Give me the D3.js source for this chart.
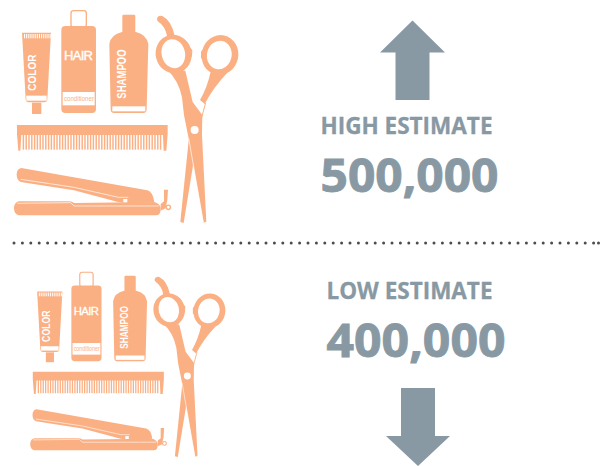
<!DOCTYPE html>
<html lang="en">
<head>
<meta charset="UTF-8">
<title>Estimates</title>
<script src="https://d3js.org/d3.v7.min.js"></script>
<style>
html, body { margin: 0; padding: 0; background: #fff; }
svg { display: block; }
</style>
</head>
<body>
<script>
const estimateLabels = ['HIGH ESTIMATE', 'LOW ESTIMATE'];
const estimates = [500000, 400000];
const directions = ['up', 'down'];
const tubeLabel = 'COLOR';
const bottleLabel = 'HAIR';
const bottleSubLabel = 'conditioner';
const shampooLabel = 'SHAMPOO';

const width = 603, height = 466;
const peach = '#fbb084', grey = '#8899a3';
const fmt = d3.format(',');

const svg = d3.select('body').append('svg').attr('width', width).attr('height', height);

// the kit of tools, drawn in a 3x working space, placed twice
function drawKit(g) {
    const tube = g.append('g');
    tube.append('path').attr('fill', peach)
        .attr('d', 'M66,98 L153,98 L142,298 Q141,307 133,307 L86,307 Q78,307 77,298 Z');
    tube.append('rect').attr('x', 96).attr('y', 308).attr('width', 28).attr('height', 34).attr('fill', peach);
    tube.append('rect').attr('x', 79).attr('y', 287).attr('width', 61).attr('height', 15).attr('fill', '#fff');
    tube.selectAll('rect.crimp').data(d3.range(72, 150, 6.4)).join('rect').attr('class', 'crimp')
        .attr('x', d => d).attr('y', 102).attr('width', 3.2).attr('height', 13).attr('fill', '#fff');
    tube.append('text').text(tubeLabel)
        .attr('transform', 'translate(109,272) rotate(-90)')
        .attr('textLength', 108).attr('lengthAdjust', 'spacingAndGlyphs')
        .attr('font-size', 35).attr('font-weight', 700).attr('fill', '#fff');

    const bottle = g.append('g');
    bottle.append('rect').attr('x', 213).attr('y', 32).attr('width', 46).attr('height', 50).attr('rx', 8)
        .attr('fill', '#fff').attr('stroke', peach).attr('stroke-width', 4);
    bottle.append('rect').attr('x', 184).attr('y', 78).attr('width', 104).attr('height', 261).attr('rx', 12).attr('fill', peach);
    bottle.append('rect').attr('x', 188).attr('y', 276).attr('width', 96).attr('height', 40).attr('fill', '#fff');
    bottle.append('text').text(bottleLabel)
        .attr('x', 192).attr('y', 180)
        .attr('textLength', 87).attr('lengthAdjust', 'spacing')
        .attr('font-size', 39).attr('fill', '#fff')
        .attr('stroke', '#fff').attr('stroke-width', 1);
    bottle.append('text').text(bottleSubLabel)
        .attr('x', 192).attr('y', 304)
        .attr('textLength', 90).attr('lengthAdjust', 'spacingAndGlyphs')
        .attr('font-size', 22).attr('fill', peach);

    const shampoo = g.append('g');
    shampoo.append('rect').attr('x', 367).attr('y', 44).attr('width', 39).attr('height', 56).attr('rx', 4).attr('fill', peach);
    shampoo.append('path').attr('fill', peach)
        .attr('d', 'M328,132 Q332,104 366,96 L408,96 Q440,104 445,132 L440,328 Q440,339 430,339 L342,339 Q332,339 332,328 Z');
    shampoo.append('rect').attr('x', 337).attr('y', 319).attr('width', 99).attr('height', 15).attr('fill', '#fff');
    shampoo.append('text').text(shampooLabel)
        .attr('transform', 'translate(379,296) rotate(-90)')
        .attr('textLength', 148).attr('lengthAdjust', 'spacingAndGlyphs')
        .attr('font-size', 38).attr('font-weight', 700).attr('fill', '#fff');

    const comb = g.append('g');
    comb.append('path').attr('fill', peach)
        .attr('d', 'M51,375 L503,375 L503,402 L499,452 L491,452 L489,405 L64,405 L61,452 L55,452 L51,402 Z');
    comb.selectAll('rect.tooth').data(d3.range(68, 488, 8.4)).join('rect').attr('class', 'tooth')
        .attr('x', d => d).attr('y', 403).attr('width', 4.4).attr('height', 46).attr('fill', peach);

    const iron = g.append('g');
    iron.append('path').attr('fill', peach)
        .attr('d', 'M64,504 L442,571 Q459,576 463,606 L387,611 L354,606 L222,571 L62,546 Q50,540 50,524 Q50,506 64,504 Z');
    iron.append('path').attr('fill', 'none').attr('stroke', '#fff').attr('stroke-width', 2)
        .attr('d', 'M62,538 L222,562 L355,592 L385,592');
    iron.append('rect').attr('x', 370).attr('y', 597).attr('width', 12).attr('height', 12).attr('fill', '#fff');
    iron.append('path').attr('fill', peach)
        .attr('d', 'M56,604 L208,604 Q218,604 222,609 L462,606 Q482,610 482,628 Q482,646 468,646 L56,646 Q42,642 42,625 Q42,608 56,604 Z');
    iron.append('path').attr('fill', 'none').attr('stroke', '#fff').attr('stroke-width', 2)
        .attr('d', 'M52,610 L212,608 L222,618 L476,618');
    iron.append('path').attr('fill', peach)
        .attr('d', 'M492,569 L504,569 L502,600 L497,625 L482,632 L482,612 L492,604 Z');
    iron.append('circle').attr('cx', 505).attr('cy', 622).attr('r', 6.5)
        .attr('fill', '#fff').attr('stroke', peach).attr('stroke-width', 4);

    const scissors = g.append('g');
    // thin lower blade and the right handle
    scissors.append('path').attr('fill', peach)
        .attr('d', 'M567,412 L541,666 L551,669 L590,430 Z');
    scissors.append('path').attr('fill', peach)
        .attr('d', 'M632,215 Q622,262 600,300 L614,312 Q640,262 682,218 Z');
    scissors.append('path').attr('fill', 'none').attr('stroke', peach).attr('stroke-width', 3)
        .attr('d', 'M617,308 L600,372');
    scissors.append('ellipse').attr('cx', 660).attr('cy', 165).attr('rx', 55).attr('ry', 60)
        .attr('transform', 'rotate(12 660 165)').attr('fill', peach);
    scissors.append('ellipse').attr('cx', 658).attr('cy', 165).attr('rx', 37).attr('ry', 43)
        .attr('transform', 'rotate(12 658 165)').attr('fill', '#fff');
    scissors.append('path').attr('fill', peach).attr('d', 'M603,155 L616,138 L618,180 L603,175 Z');
    // heavy blade with the left handle
    scissors.append('path').attr('fill', peach)
        .attr('d', 'M500,208 Q535,240 546,292 L552,345 L565,410 L611,668 L619,665 L606,405 L607,345 L578,306 L556,212 Z');
    scissors.append('path').attr('fill', 'none').attr('stroke', '#fff').attr('stroke-width', 2)
        .attr('d', 'M566,414 L610,668');
    scissors.append('ellipse').attr('cx', 521).attr('cy', 162).attr('rx', 54).attr('ry', 58)
        .attr('transform', 'rotate(-14 521 162)').attr('fill', peach);
    scissors.append('ellipse').attr('cx', 520).attr('cy', 161).attr('rx', 35).attr('ry', 44)
        .attr('transform', 'rotate(-14 520 161)').attr('fill', '#fff');
    scissors.append('path').attr('fill', peach).attr('d', 'M560,132 L577,150 L576,170 L558,172 Z');
    scissors.append('path').attr('fill', peach)
        .attr('d', 'M471,56 Q474,44 487,48 Q515,62 524,108 L502,112 Q496,78 476,66 Q470,62 471,56 Z');
    scissors.append('circle').attr('cx', 584).attr('cy', 390).attr('r', 12).attr('fill', '#fff');
    g.selectAll('text').attr('font-family', '"Liberation Sans", sans-serif');
}

drawKit(svg.append('g').attr('transform', 'scale(0.3333)'));
drawKit(svg.append('g').attr('transform', 'translate(18,263) scale(0.29)'));

// dotted divider
svg.append('line')
    .attr('x1', 14).attr('x2', 595).attr('y1', 243).attr('y2', 243)
    .attr('stroke', '#4d4d4d').attr('stroke-width', 3)
    .attr('stroke-linecap', 'round').attr('stroke-dasharray', '0 8.4');
svg.append('circle').attr('cx', 598.5).attr('cy', 243).attr('r', 1.5).attr('fill', '#4d4d4d');

// arrows
const arrowSpots = {
    up: { cx: 412.5, tip: 20.5, base: 52.5, end: 100, halfHead: 32.5, halfShaft: 17 },
    down: { cx: 418, tip: 466, base: 436, end: 388, halfHead: 32, halfShaft: 17 }
};
svg.selectAll('path.arrow').data(directions).join('path')
    .attr('class', 'arrow').attr('fill', grey)
    .attr('d', d => {
        const a = arrowSpots[d];
        return d3.line()([
            [a.cx, a.tip], [a.cx + a.halfHead, a.base], [a.cx + a.halfShaft, a.base],
            [a.cx + a.halfShaft, a.end], [a.cx - a.halfShaft, a.end], [a.cx - a.halfShaft, a.base],
            [a.cx - a.halfHead, a.base]
        ]) + 'Z';
    });

// labels and numbers
const spots = [
    { x: 320.5, labelY: 134, labelW: 172, numY: 192, numW: 178 },
    { x: 326.5, labelY: 298.5, labelW: 166, numY: 357, numW: 179 }
];
const font = '"Open Sans", sans-serif';
svg.selectAll('text.label').data(estimateLabels).join('text')
    .attr('class', 'label').text(d => d)
    .attr('x', (d, i) => spots[i].x).attr('y', (d, i) => spots[i].labelY)
    .attr('textLength', (d, i) => spots[i].labelW).attr('lengthAdjust', 'spacingAndGlyphs')
    .attr('font-family', font).attr('font-weight', 700).attr('font-size', 24).attr('fill', grey)
    .attr('stroke', grey).attr('stroke-width', 0.3);
svg.selectAll('text.num').data(estimates).join('text')
    .attr('class', 'num').text(d => fmt(d))
    .attr('x', (d, i) => spots[i].x).attr('y', (d, i) => spots[i].numY)
    .attr('textLength', (d, i) => spots[i].numW).attr('lengthAdjust', 'spacingAndGlyphs')
    .attr('font-family', font).attr('font-weight', 700).attr('font-size', 47).attr('fill', grey)
    .attr('stroke', grey).attr('stroke-width', 0.9);
</script>
</body>
</html>
